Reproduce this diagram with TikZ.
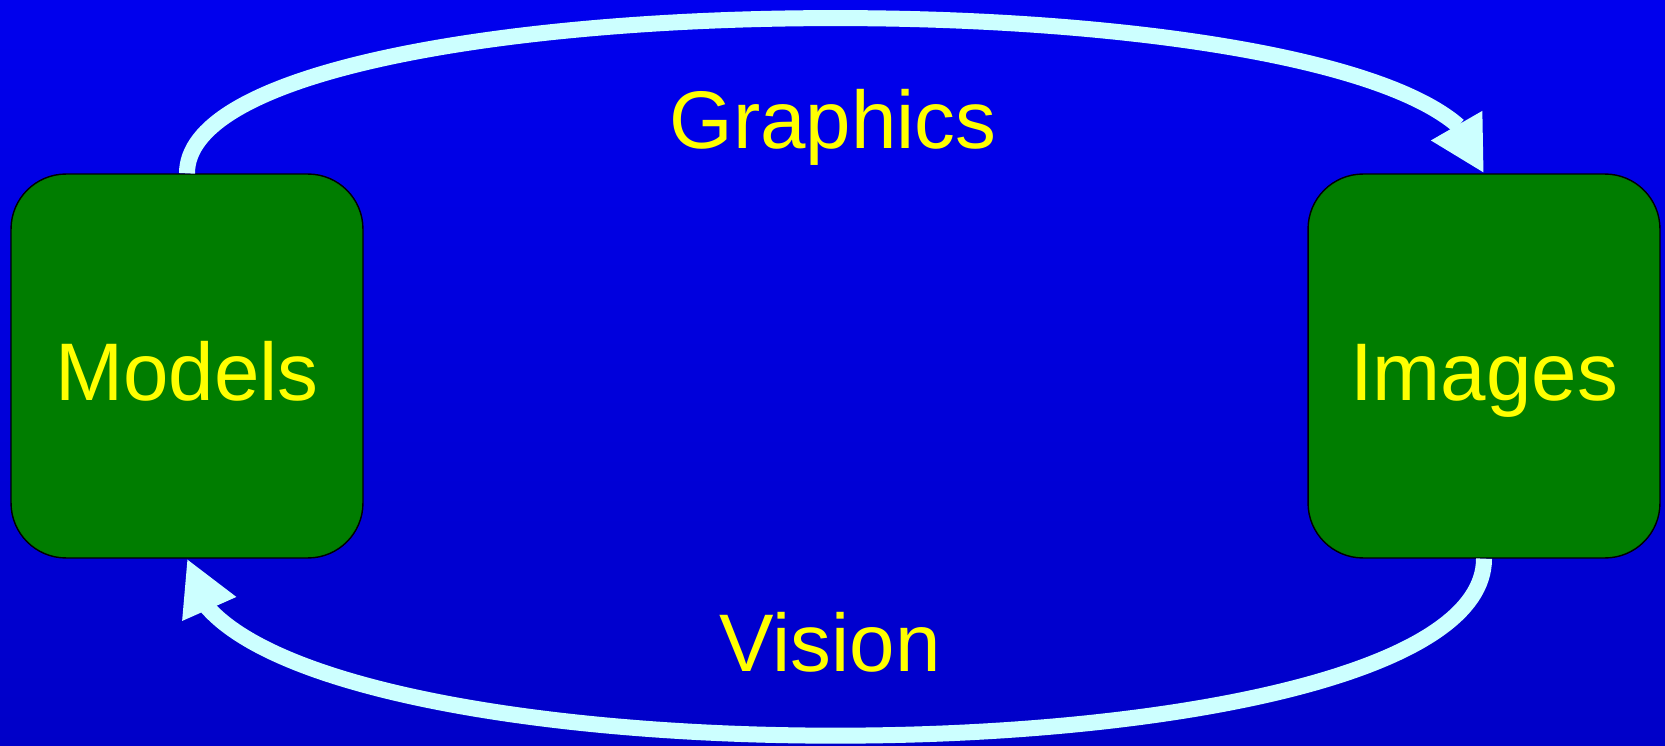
\documentclass[tikz,border=0pt]{standalone}
\usepackage{fontspec}
\setmainfont{Liberation Sans}
\usetikzlibrary{positioning,arrows.meta,bending}

\definecolor{fundoTopo}{RGB}{0,0,238}
\definecolor{fundoBase}{RGB}{0,0,200}
\definecolor{caixaVerde}{RGB}{0,125,0}
\definecolor{setaCiano}{RGB}{204,255,255}
\definecolor{textoAmarelo}{RGB}{255,255,0}

\begin{document}
\begin{tikzpicture}[x=0.02cm,y=-0.02cm,
    caixa/.style={draw=black, line width=0.8pt, fill=caixaVerde, rounded corners=1.1cm,
      minimum width=7.04cm, minimum height=7.68cm, inner sep=0pt,
      text height=1.6cm, text depth=0.2cm,
      text=textoAmarelo, font=\fontsize{46.5}{56}\selectfont},
    rotulo/.style={text=textoAmarelo, font=\fontsize{46.5}{56}\selectfont, anchor=base, inner sep=0pt},
    seta/.style={draw=setaCiano, line width=0.32cm,
      -{Triangle[length=1.1cm, width=1.1cm, flex]}}]

        % Fundo
        \fill[top color=fundoTopo, bottom color=fundoBase] (0,0) rectangle (1665,746);
        \useasboundingbox (0,0) rectangle (1665,746);

        % Caixas
        \node[caixa] (models) at (187,366) {Models};
        \node[caixa] (images) at (1484,366) {Images};

        % Setas
        \draw[seta] (models.north) .. controls +(0,-207) and +(0,-207) .. (images.north);
        \draw[seta] (images.south) .. controls +(0,236) and +(0,236) .. (models.south);

        % Rótulos
        \node[rotulo] (graphics) at (833,149) {Graphics};
        \node[rotulo] (vision) at (830,671) {Vision};

    \end{tikzpicture}
\end{document}
